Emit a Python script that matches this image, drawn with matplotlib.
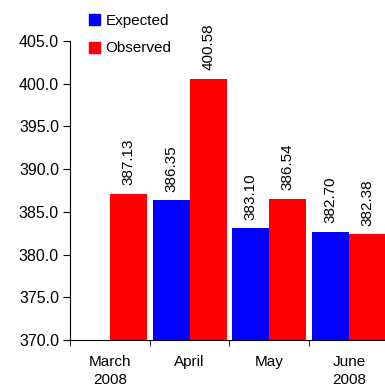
import numpy as np
import matplotlib
matplotlib.use("Agg")
import matplotlib.pyplot as plt
from matplotlib.patches import Patch

plt.rcParams['font.family'] = ['Liberation Sans', 'DejaVu Sans']

months = ["March\n2008", "April", "May", "June\n2008"]
expected = [np.nan, 386.35, 383.10, 382.70]
observed = [387.13, 400.58, 386.54, 382.38]

fig = plt.figure(figsize=(3.85, 3.9), dpi=100)
ax = fig.add_axes([0.182, 0.128, 0.828, 0.767])

x = np.arange(len(months))
w = 0.465
base = 370.0
exp_h = [v - base for v in expected]
obs_h = [v - base for v in observed]
ax.bar(x - w / 2, exp_h, w, bottom=base, color="#0000FF")
ax.bar(x + w / 2, obs_h, w, bottom=base, color="#FF0000")

for xi, v in zip(x, expected):
    if not np.isnan(v):
        ax.annotate("%.2f" % v, (xi - w / 2, v), xytext=(0, 6), textcoords="offset points",
                    rotation=90, ha="center", va="bottom", fontsize=11)
for xi, v in zip(x, observed):
    ax.annotate("%.2f" % v, (xi + w / 2, v), xytext=(0, 6), textcoords="offset points",
                rotation=90, ha="center", va="bottom", fontsize=11)

ax.set_ylim(370, 405)
ax.set_yticks(np.arange(370, 405.1, 5))
ax.set_yticklabels(["%.1f" % t for t in np.arange(370, 405.1, 5)], fontsize=11.5)
ax.set_xlim(-0.5, 3.5)
ax.set_xticks(x)
ax.set_xticklabels(months, fontsize=11, linespacing=1.3)
ax.set_xticks(np.arange(-0.5, 3.6, 1), minor=True)
ax.tick_params(axis="x", which="major", length=0, pad=11)
ax.tick_params(axis="x", which="minor", length=4, direction="out")
ax.tick_params(axis="y", length=5, direction="out", pad=3)
ax.spines["top"].set_visible(False)
ax.spines["right"].set_visible(False)

handles = [Patch(color="#0000FF", label="Expected"), Patch(color="#FF0000", label="Observed")]
fig.legend(handles=handles, loc="upper left", bbox_to_anchor=(0.195, 1.0), frameon=False,
           fontsize=11, handlelength=0.75, handleheight=0.75, handletextpad=0.35, labelspacing=0.9)

plt.savefig("out.png", dpi=100)
